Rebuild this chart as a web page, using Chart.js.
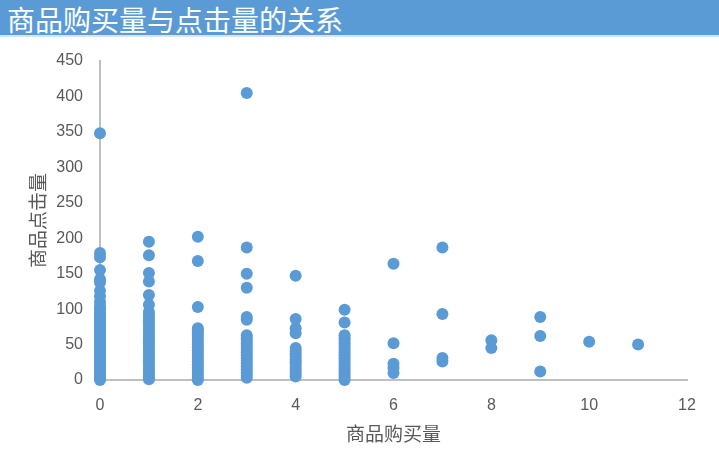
<!DOCTYPE html>
<html lang="zh">
<head>
    <meta charset="UTF-8">
    <title>商品购买量与点击量的关系</title>
    <script src="https://cdn.jsdelivr.net/npm/chart.js"></script>
    <style>
        body {
            margin: 0;
            overflow: hidden;
            background: #ffffff;
            font-family: "Noto Sans CJK SC", sans-serif;
        }
        #titleBar {
            height: 37px;
            line-height: 38px;
            background: #5b9bd5;
            color: #ffffff;
            font-size: 28px;
            padding-left: 7px;
            border-bottom: 2px solid #d4e5f5;
            box-sizing: border-box;
        }
        #wrap {
            position: relative;
            width: 719px;
            height: 418px;
        }
    </style>
</head>
<body>
    <div id="titleBar">商品购买量与点击量的关系</div>
    <div id="wrap"><canvas id="scatterChart"></canvas></div>
    <script>
        // x tick labels / range
        const xTicks = [0, 2, 4, 6, 8, 10, 12];
        const yTicks = [0, 50, 100, 150, 200, 250, 300, 350, 400, 450];

        // clicks per purchase count
        const clicks0 = [348, 179, 173, 155, 142, 138, 126, 118, 110, 104, 100, 97, 94, 90, 87, 84, 80, 77, 74, 70, 67, 64, 60, 57, 54, 50, 47, 44, 40, 37, 34, 30, 27, 24, 20, 17, 14, 10, 7, 4, 2, 0];
        const clicks1 = [195, 176, 151, 139, 120, 106, 96, 92, 88, 84, 80, 76, 72, 68, 64, 60, 56, 52, 48, 44, 40, 36, 32, 28, 24, 20, 16, 12, 8, 4, 1];
        const clicks2 = [202, 168, 103, 73, 70, 66, 62, 58, 54, 50, 46, 42, 38, 34, 30, 26, 22, 18, 14, 10, 6, 2, 0];
        const clicks3 = [405, 187, 150, 130, 89, 85, 63, 59, 55, 51, 47, 43, 39, 35, 31, 27, 23, 19, 15, 11, 7, 3];
        const clicks4 = [147, 86, 73, 66, 45, 41, 37, 33, 29, 25, 21, 17, 13, 9, 5];
        const clicks5 = [99, 81, 63, 59, 55, 51, 47, 43, 39, 35, 31, 27, 23, 19, 15, 11, 7, 3, 0];
        const clicks6 = [164, 52, 23, 17, 10];
        const clicks7 = [187, 93, 31, 26];
        const clicks8 = [56, 45];
        const clicks9 = [89, 62, 12];
        const clicks10 = [54];
        const clicks11 = [50];

        const columns = [clicks0, clicks1, clicks2, clicks3, clicks4, clicks5,
                         clicks6, clicks7, clicks8, clicks9, clicks10, clicks11];

        const points = [];
        columns.forEach((col, buy) => col.forEach(c => points.push({ x: buy, y: c })));

        const gray = '#595959';
        const axisLine = '#bfbfbf';

        new Chart(document.getElementById('scatterChart'), {
            type: 'scatter',
            data: {
                datasets: [{
                    data: points,
                    backgroundColor: '#5b9bd5',
                    borderColor: '#5b9bd5',
                    borderWidth: 0,
                    pointRadius: 6,
                    pointHoverRadius: 6,
                    clip: false
                }]
            },
            options: {
                responsive: true,
                maintainAspectRatio: false,
                animation: false,
                layout: { padding: { top: 24, right: 32, left: 0, bottom: 0 } },
                plugins: {
                    legend: { display: false },
                    tooltip: { enabled: false }
                },
                scales: {
                    x: {
                        type: 'linear',
                        min: xTicks[0],
                        max: xTicks[xTicks.length - 1],
                        afterBuildTicks: s => { s.ticks = xTicks.map(v => ({ value: v })); },
                        afterFit: s => { s.height = 75; },
                        grid: { display: false },
                        border: { display: true, color: axisLine, width: 2 },
                        ticks: {
                            color: gray,
                            padding: 8,
                            font: { family: 'Liberation Sans', size: 16 }
                        },
                        title: {
                            display: true,
                            text: '商品购买量',
                            color: gray,
                            padding: { top: 0, bottom: 10 },
                            font: { family: 'Noto Sans CJK SC', size: 19 }
                        }
                    },
                    y: {
                        type: 'linear',
                        min: yTicks[0],
                        max: yTicks[yTicks.length - 1],
                        afterBuildTicks: s => { s.ticks = yTicks.map(v => ({ value: v })); },
                        afterFit: s => { s.width = 100; },
                        grid: { display: false },
                        border: { display: true, color: axisLine, width: 2 },
                        ticks: {
                            color: gray,
                            padding: 9,
                            font: { family: 'Liberation Sans', size: 16 }
                        },
                        title: {
                            display: true,
                            text: '商品点击量',
                            color: gray,
                            padding: { top: 26, bottom: 0 },
                            font: { family: 'Noto Sans CJK SC', size: 19 }
                        }
                    }
                }
            }
        });
    </script>
</body>
</html>
